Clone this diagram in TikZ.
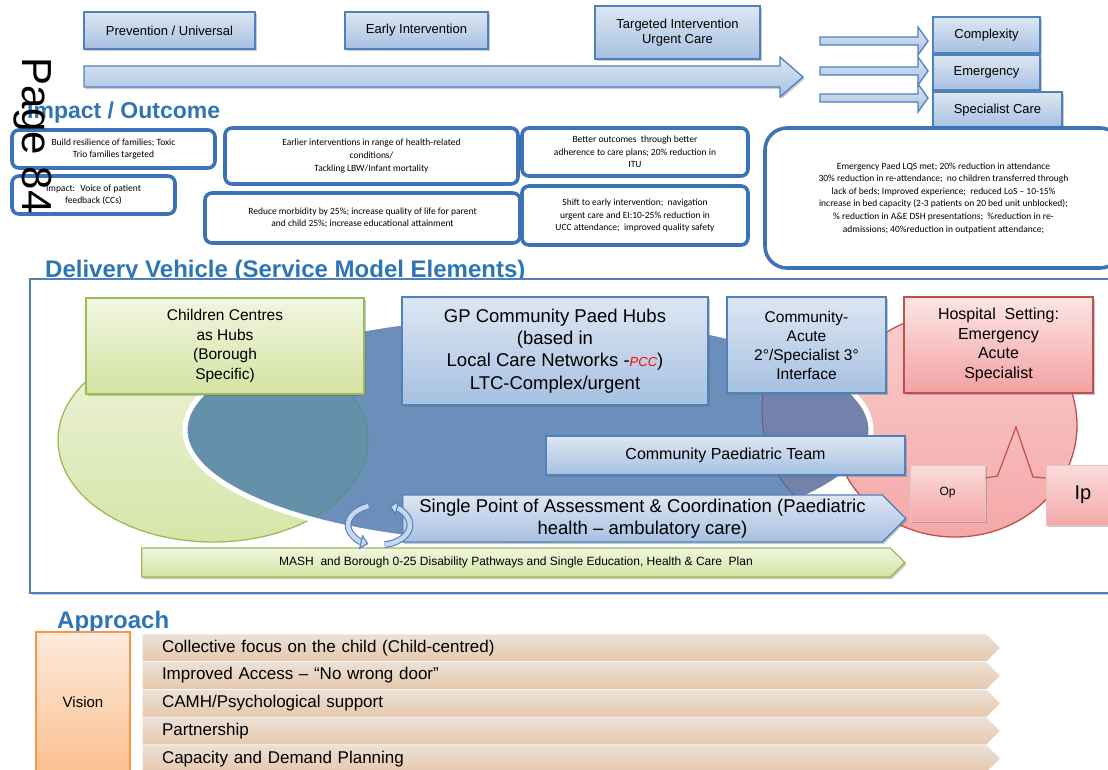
\documentclass[tikz,border=0pt]{standalone}
\usepackage{fontspec}
\setmainfont{Liberation Sans}
\newfontfamily\calib{Carlito}
\usetikzlibrary{positioning,shadows,shapes.symbols,arrows.meta}
\definecolor{TitleBlue}{HTML}{2E75B6}
\definecolor{BoxBlue}{HTML}{4F81BD}
\definecolor{BoxTop}{HTML}{DDE7F3}
\definecolor{BoxBot}{HTML}{A6C0E1}
\definecolor{ImpBlue}{HTML}{3D73B6}
\definecolor{LeafGreen}{HTML}{9BBB59}
\definecolor{LeafTop}{HTML}{F1F6E2}
\definecolor{LeafBot}{HTML}{D4E3A0}
\definecolor{HospRed}{HTML}{C0504D}
\definecolor{HospTop}{HTML}{FCE5E5}
\definecolor{HospBot}{HTML}{F3A2A2}
\definecolor{VennBlue}{HTML}{6C8EBB}
\definecolor{VennTeal}{HTML}{6590A9}
\definecolor{TealEdge}{HTML}{5E8C7E}
\definecolor{VennPurple}{HTML}{7282AA}
\definecolor{PurpleEdge}{HTML}{5E5A88}
\definecolor{PinkTop}{HTML}{F9CDCD}
\definecolor{PinkBot}{HTML}{F4A8A8}
\definecolor{GreenTop}{HTML}{EEF4DC}
\definecolor{GreenBot}{HTML}{D7E5A8}
\definecolor{VisOrange}{HTML}{F79646}
\definecolor{VisTop}{HTML}{FDEBDD}
\definecolor{VisBot}{HTML}{FAC08F}
\definecolor{RowTop}{HTML}{EBE1D8}
\definecolor{RowBot}{HTML}{E6C8AC}
\definecolor{IconFill}{HTML}{C9D7EA}
\newcommand\fsz[2]{\fontsize{#1}{#2}\selectfont}

\begin{document}
\begin{tikzpicture}[x=1pt,y=-1pt,
  boxshadow/.style={drop shadow={shadow xshift=1.5pt,shadow yshift=-2pt,opacity=.35,fill=black!60}},
  bluebox/.style={draw=BoxBlue,line width=1.4pt,top color=BoxTop,bottom color=BoxBot,align=center,inner sep=1pt,boxshadow},
  leafbox/.style={bluebox,draw=LeafGreen,top color=LeafTop,bottom color=LeafBot},
  hospbox/.style={bluebox,draw=HospRed,top color=HospTop,bottom color=HospBot},
  pinkbox/.style={draw=HospRed!35,line width=.8pt,top color=PinkTop!70!white,bottom color=PinkBot,boxshadow},
  impbox/.style={draw=ImpBlue,line width=3.6pt,rounded corners=7pt,fill=white,align=center,inner sep=0pt,font=\calib\fsz{9.5}{12.6}},
  heading/.style={anchor=base west,inner sep=0pt,text=TitleBlue,font=\bfseries\fsz{24}{28}},
  blockarr/.style={draw=BoxBlue,line width=1.3pt,top color=BoxTop,bottom color=BoxBot},
  rowbar/.style={signal,signal to=east,signal pointer angle=90,draw=white,line width=.6pt,top color=RowTop,bottom color=RowBot,minimum width=858pt,minimum height=27.7pt,inner sep=0pt,text width=805pt,align=left,font=\fsz{17}{20}}
]
\useasboundingbox (0,0) rectangle (1108,769);

% levels of need
\draw[blockarr,boxshadow] (84,66) -- (780,66) -- (780,57) -- (803,77) -- (780,97) -- (780,87) -- (84,87) -- cycle;
\foreach \yy in {41,71,98}
  \draw[blockarr] (820,\yy-4) -- (918,\yy-4) -- (918,\yy-14) -- (928,\yy) -- (918,\yy+14) -- (918,\yy+4) -- (820,\yy+4) -- cycle;
\node[bluebox,minimum width=171pt,minimum height=37pt,font=\fsz{13}{15}] (prev) at (169.5,30.5) {Prevention / Universal};
\node[bluebox,minimum width=143pt,minimum height=37pt,font=\fsz{13}{15}] (early) at (416.5,30.5) {Early Intervention};
\node[bluebox,minimum width=165pt,minimum height=53pt,font=\fsz{13}{15.5}] (target) at (677.5,32.5) {Targeted Intervention\\Urgent Care};
\node[bluebox,minimum width=107pt,minimum height=36pt,font=\fsz{13}{15}] (cplx) at (986.5,35) {Complexity};
\node[bluebox,minimum width=107pt,minimum height=35pt,font=\fsz{13}{15}] (emerg) at (986.5,72.5) {Emergency};
\node[bluebox,minimum width=129pt,minimum height=36pt,font=\fsz{13}{15}] (spec) at (997.5,110) {Specialist Care};

% impact / outcome
\node[heading,font=\bfseries\fsz{23}{27}] (impact) at (27,118) {Impact / Outcome};
\node[impbox,minimum width=203pt,minimum height=38pt] (resil) at (113.5,149) {Build resilience of families; Toxic\\Trio families targeted};
\node[impbox,minimum width=163pt,minimum height=38pt] (voice) at (93.5,195) {Impact:~ Voice of patient\\feedback (CCs)};
\node[impbox,minimum width=293pt,minimum height=56pt] (earlier) at (371.5,156) {Earlier interventions in range of health-related\\conditions/\\Tackling LBW/Infant mortality};
\node[impbox,minimum width=315pt,minimum height=50pt] (morb) at (362.5,218) {Reduce morbidity by 25\%; increase quality of life for parent\\and child 25\%; increase educational attainment};
\node[impbox,minimum width=226pt,minimum height=48pt] (adher) at (635,152) {Better outcomes~ through better\\adherence to care plans; 20\% reduction in\\ITU};
\node[impbox,minimum width=226pt,minimum height=59pt] (shift) at (635,215.5) {Shift to early intervention;~ navigation\\urgent care and EI:10-25\% reduction in\\UCC attendance;~ improved quality safety};
\node[impbox,rounded corners=22pt,minimum width=357pt,minimum height=140pt] (paedlqs) at (943.5,198) {Emergency Paed LQS met; 20\% reduction in attendance\\30\% reduction in re-attendance;~ no children transferred through\\lack of beds; Improved experience;~ reduced LoS – 10-15\%\\increase in bed capacity (2-3 patients on 20 bed unit unblocked);\\\% reduction in A\&E DSH presentations;~ \%reduction in re-\\admissions; 40\%reduction in outpatient attendance;};

% delivery vehicle
\node[heading] (deliv) at (45,277) {Delivery Vehicle (Service Model Elements)};
\draw[draw=BoxBlue,line width=1.4pt,fill=white,boxshadow] (30,279) rectangle (1125,593);
\draw[HospRed,line width=1.3pt,top color=PinkTop,bottom color=PinkBot] (955,425) ellipse [x radius=122,y radius=112];
\draw[LeafGreen,line width=1.3pt,top color=GreenTop,bottom color=GreenBot] (213,440) ellipse [x radius=155,y radius=102];
\fill[VennBlue] (528,430) ellipse [x radius=343,y radius=115];
\begin{scope}
  \clip (213,440) ellipse [x radius=155,y radius=102];
  \fill[VennTeal] (528,430) ellipse [x radius=343,y radius=115];
\end{scope}
\begin{scope}
  \clip (528,430) ellipse [x radius=343,y radius=115];
  \draw[TealEdge,line width=1pt] (213,440) ellipse [x radius=155,y radius=102];
  \fill[VennPurple] (830,410) ellipse [x radius=68,y radius=100];
  \draw[PurpleEdge,line width=.8pt] (830,410) ellipse [x radius=68,y radius=100];
\end{scope}
\draw[white,line width=5pt] (528,430) ellipse [x radius=343,y radius=115];

\node[leafbox,minimum width=278pt,minimum height=96pt,font=\fsz{15.5}{19.5}] (hubs) at (225,346) {Children Centres\\as Hubs\\(Borough\\Specific)};
\node[bluebox,minimum width=306pt,minimum height=108pt,font=\fsz{18.5}{22.3}] (gphub) at (555,351) {GP Community Paed Hubs\\(based in\\Local Care Networks -{\color{red}\itshape\fsz{13}{15}PCC})\\LTC-Complex/urgent};
\node[bluebox,minimum width=159pt,minimum height=96pt,font=\fsz{15.5}{19}] (interface) at (806.5,345) {Community-\\Acute\\2°/Specialist 3°\\Interface};
\node[hospbox,minimum width=189pt,minimum height=96pt,font=\fsz{16}{19.5}] (hosp) at (998.5,345) {Hospital~ Setting:\\Emergency\\Acute\\Specialist};
\node[bluebox,minimum width=359pt,minimum height=39pt,font=\fsz{16}{18}] (cpt) at (725.5,455.5) {Community Paediatric Team};
\node[bluebox,signal,signal to=east,signal pointer angle=90,minimum width=503pt,minimum height=47pt,font=\fsz{18.5}{22}] (spoa) at (642.5,518.5) {Single Point of Assessment \& Coordination (Paediatric\\health – ambulatory care)};
\node[leafbox,signal,signal to=east,signal pointer angle=90,minimum width=763pt,minimum height=29pt,font=\fsz{12}{14}] (mash) at (516,562.5) {MASH~ and Borough 0-25 Disability Pathways and Single Education, Health \& Care~ Plan};
\node[pinkbox,minimum width=75pt,minimum height=56pt,font=\fsz{12}{14}] (op) at (947.5,493) {Op};
\node[pinkbox,minimum width=74pt,minimum height=60pt,font=\fsz{20}{22}] (ip) at (1083,495) {Ip};
\draw[HospRed,line width=1.2pt] ([yshift=15pt]op.east) -- ++(12,-2) -- (1016,427) -- (1033,477) -- ([yshift=17pt]ip.west);
% circular arrows
\draw[draw=BoxBlue,line width=1.1pt,double=IconFill,double distance=4.5pt,-{Triangle[length=8pt,width=15pt,fill=IconFill]}] (384.4,544.7) arc [start angle=80,end angle=-70,x radius=31,y radius=20];
\draw[draw=BoxBlue,line width=1.1pt,double=IconFill,double distance=4.5pt,-{Triangle[length=8pt,width=15pt,fill=IconFill]}] (368.4,506.2) arc [start angle=250,end angle=110,x radius=31,y radius=20];

% approach
\node[heading] (appr) at (57,628) {Approach};
\node[draw=VisOrange,line width=1.4pt,top color=VisTop,bottom color=VisBot,minimum width=94pt,minimum height=140pt,font=\fsz{15}{18}] (vision) at (83,702) {Vision};
\foreach \txt [count=\i] in {Collective focus on the child (Child-centred),Improved Access – “No wrong door”,CAMH/Psychological support,Partnership,Capacity and Demand Planning}
  \node[rowbar] (row\i) at (564.5,{620.15+27.7*\i}) {\txt};

\node[rotate=-90,anchor=base west,inner sep=0pt,font=\fsz{42}{42}] (pagemark) at (22,57) {Page 84};
\end{tikzpicture}
\end{document}
